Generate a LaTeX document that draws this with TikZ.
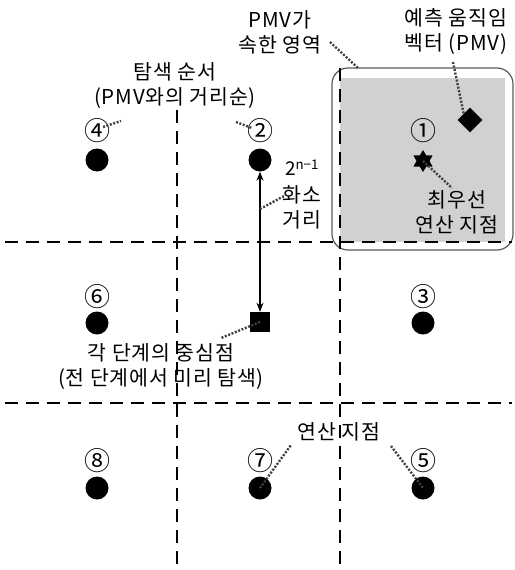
\documentclass[tikz,border=0pt]{standalone}
\usepackage{fontspec}
\setmainfont{Noto Sans CJK KR}
\usetikzlibrary{shapes.geometric,arrows.meta}
\tikzset{
  grid/.style={line width=2.6pt, dash pattern=on 13pt off 8pt},
  leader/.style={line width=2.4pt, dash pattern=on 2pt off 1.6pt, black!75},
  dot/.style={circle, fill=black, inner sep=0pt, minimum size=23pt},
  num/.style={inner sep=0pt, font=\fontsize{26}{26}\selectfont},
  lbl/.style={align=center, inner sep=1pt, font=\fontsize{20.5}{25}\selectfont\addfontfeature{LetterSpace=4}},
}
\begin{document}
\begin{tikzpicture}[x=1pt,y=-1pt]
\useasboundingbox (0,0) rectangle (514,570);
% PMV region
\fill[black!18] (340,78) rectangle (505,242);
\draw[line width=1.2pt, black!65, rounded corners=16pt] (332,68) rectangle (513,250);
% grid lines
\draw[grid] (177,110) -- (177,570);
\draw[grid] (340,68) -- (340,570);
\draw[grid] (5,242) -- (512,242);
\draw[grid] (5,403) -- (512,403);
% dots
\node[dot] (d4) at (97,160) {};
\node[dot] (d2) at (260,160) {};
\node[star, star points=6, star point ratio=1.7, fill=black, inner sep=0pt, minimum size=22pt] (d1) at (423,161) {};
\node[dot] (d6) at (97,323) {};
\node[dot] (d3) at (423,323) {};
\node[dot] (d8) at (97,488) {};
\node[dot] (d7) at (260,488) {};
\node[dot] (d5) at (423,488) {};
\node[fill=black, inner sep=0pt, minimum size=20pt] (sq) at (260,322) {};
\node[diamond, fill=black, inner sep=0pt, minimum size=25pt] (pmv) at (470,120) {};
% numbers
\node[num] (n4) at (97,131) {④};
\node[num] (n2) at (260,131) {②};
\node[num] (n1) at (423,131) {①};
\node[num] (n6) at (97,297) {⑥};
\node[num] (n3) at (423,297) {③};
\node[num] (n8) at (97,461) {⑧};
\node[num] (n7) at (260,461) {⑦};
\node[num] (n5) at (423,461) {⑤};
% arrow
\draw[line width=2pt, {Stealth[length=9pt,width=7pt]}-{Stealth[length=9pt,width=7pt]}] (d2.south) -- (sq.north);
% labels
\node[lbl] (tpmv) at (280,32) {PMV가\\속한 영역};
\node[lbl] (tvec) at (456,32) {예측 움직임\\벡터 (PMV)};
\node[lbl] (tord) at (175,86) {탐색 순서\\(PMV와의 거리순)};
\node[inner sep=0pt, font=\fontsize{19}{19}\selectfont] (tpow) at (302,168) {2\textsuperscript{n−1}};
\node[lbl] (tdist) at (302,207) {화소\\거리};
\node[lbl] (tbest) at (457,212) {최우선\\연산 지점};
\node[lbl] (tcen) at (161,367) {각 단계의 중심점\\(전 단계에서 미리 탐색)};
\node[lbl] (tcalc) at (339,432) {연산 지점};
% leaders
\coordinate (c1) at (330,42);
\draw[leader] (c1) -- (358,68);
\draw[leader] (453,62) -- (pmv.north west);
\draw[leader] (d1.center) -- (452,188);
\draw[leader] (260,209) -- (284,196);
\draw[leader] (sq.center) -- (221,338);
\draw[leader] (103,127) -- (121,121);
\draw[leader] (236,122) -- (252,128);
\draw[leader] (d7.center) -- (291,445);
\draw[leader] (391,446) -- (d5.center);
\end{tikzpicture}
\end{document}
